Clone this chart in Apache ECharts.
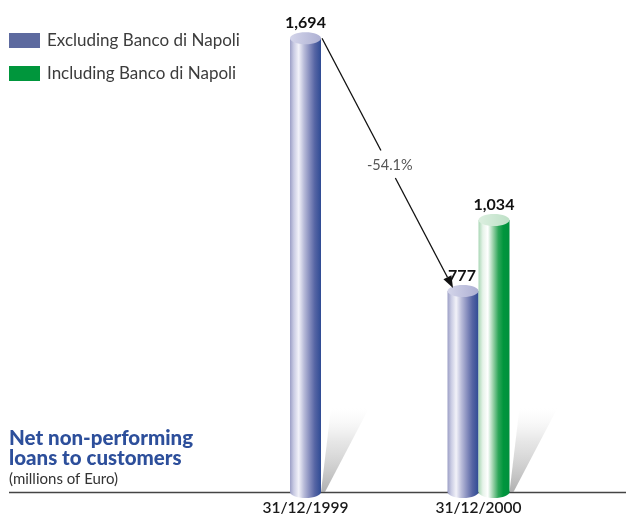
<!DOCTYPE html>
<html>
<head>
<meta charset="utf-8">
<script src="https://cdn.jsdelivr.net/npm/echarts@6/dist/echarts.min.js"></script>
<style>html,body{margin:0;padding:0;background:#fff;}#c{width:626px;height:521px;}</style>
</head>
<body>
<div id="c"></div>
<script>
const categories = ['31/12/1999', '31/12/2000'];
const excludingBN = [1694, 777];
const includingBN = [null, 1034];
const changeLabel = '-54.1%';
const seriesNames = ['Excluding Banco di Napoli', 'Including Banco di Napoli'];

const FONT = 'Lato, "Open Sans", sans-serif';
const AXIS_OFFSET = -13;
const BAR_W = 31;

const blueBody = new echarts.graphic.LinearGradient(0, 0, 1, 0, [
  {offset: 0, color: '#9c9fc6'}, {offset: 0.12, color: '#c9cbe3'},
  {offset: 0.28, color: '#f2f2f9'}, {offset: 0.45, color: '#b9bcd9'},
  {offset: 0.62, color: '#8990bf'}, {offset: 0.8, color: '#5665a4'},
  {offset: 1, color: '#2f4b94'}]);
const blueTop = new echarts.graphic.LinearGradient(0, 0, 1, 0, [
  {offset: 0, color: '#d4d5ea'}, {offset: 1, color: '#adb0d3'}]);
const greenBody = new echarts.graphic.LinearGradient(0, 0, 1, 0, [
  {offset: 0, color: '#a9d7b5'}, {offset: 0.14, color: '#e6f3e9'},
  {offset: 0.3, color: '#ffffff'}, {offset: 0.48, color: '#93cfa4'},
  {offset: 0.64, color: '#2ea65a'}, {offset: 0.8, color: '#00963d'},
  {offset: 1, color: '#00903d'}]);
const greenTop = new echarts.graphic.LinearGradient(0, 0, 1, 0, [
  {offset: 0, color: '#dcefe0'}, {offset: 1, color: '#bde0c6'}]);

function cylinder(params, api, isGreen) {
  const i = api.value(0), v = api.value(1);
  if (v == null || isNaN(v)) return;
  const top = api.coord([i, v]);
  const base = api.coord([i, 0]);
  const baseY = base[1] + AXIS_OFFSET;
  let offset = 0;
  const paired = !isGreen && includingBN[i] != null;
  if (paired) offset = -BAR_W / 2;
  if (isGreen && excludingBN[i] != null) offset = BAR_W / 2;
  const cx = top[0] + offset;
  const x = cx - BAR_W / 2;
  const ry = 6;
  const children = [];
  const rightMost = isGreen || includingBN[i] == null;
  if (rightMost) {
    const xr = x + BAR_W;
    children.push({
      type: 'polygon',
      shape: {points: [[xr, baseY], [xr + 10, baseY - 84], [xr + 48, baseY - 84], [xr + 4, baseY]]},
      style: {fill: new echarts.graphic.LinearGradient(0, 1, 0, 0, [
        {offset: 0, color: 'rgba(150,150,150,0.75)'}, {offset: 0.6, color: 'rgba(200,200,200,0.45)'},
        {offset: 1, color: 'rgba(235,235,235,0)'}])}
    });
  }
  const body = isGreen ? greenBody : blueBody;
  children.push({type: 'ellipse', shape: {cx: cx, cy: baseY, rx: BAR_W / 2, ry: ry}, style: {fill: body}});
  children.push({type: 'rect', shape: {x: x, y: top[1], width: BAR_W, height: baseY - top[1]}, style: {fill: body}});
  children.push({type: 'ellipse', shape: {cx: cx, cy: top[1], rx: BAR_W / 2, ry: ry}, style: {fill: isGreen ? greenTop : blueTop}});
  children.push({type: 'text', style: {text: v.toLocaleString('en-US'), x: cx - (paired ? 1 : 0), y: top[1] - 7,
    align: 'center', verticalAlign: 'bottom', fontSize: 16, fontWeight: 'bold', fontFamily: FONT, fill: '#111'}});
  return {type: 'group', children: children};
}

function arrow(params, api) {
  const p1 = api.coord([0, excludingBN[0]]);
  const p2 = api.coord([1, excludingBN[1]]);
  const sx = p1[0] + BAR_W / 2 + 1, sy = p1[1];
  const ex = p2[0] - BAR_W - 10 + BAR_W / 2, ey = p2[1] - 3;
  const dx = ex - sx, dy = ey - sy;
  const len = Math.sqrt(dx * dx + dy * dy);
  const ux = dx / len, uy = dy / len;
  const t1 = 0.45, t2 = 0.56, tm = 0.51;
  const headL = 12, headW = 4.5;
  const bx = ex - ux * headL, by = ey - uy * headL;
  return {type: 'group', children: [
    {type: 'line', shape: {x1: sx, y1: sy, x2: sx + dx * t1, y2: sy + dy * t1}, style: {stroke: '#111', lineWidth: 1.3}},
    {type: 'line', shape: {x1: sx + dx * t2, y1: sy + dy * t2, x2: bx, y2: by}, style: {stroke: '#111', lineWidth: 1.3}},
    {type: 'polygon', shape: {points: [[ex, ey], [bx - uy * headW, by + ux * headW], [bx + uy * headW, by - ux * headW]]}, style: {fill: '#111'}},
    {type: 'text', style: {text: changeLabel, x: sx + dx * tm + 1, y: sy + dy * tm, align: 'center', verticalAlign: 'middle',
      fontSize: 14.5, fontFamily: FONT, fill: '#555'}}
  ]};
}

const chart = echarts.init(document.getElementById('c'), null, {renderer: 'canvas'});
chart.setOption({
  backgroundColor: '#fff',
  animation: false,
  title: {
    text: 'Net non-performing\nloans to customers',
    subtext: '(millions of Euro)',
    left: 9, top: 428, itemGap: 2, padding: 0,
    textStyle: {fontSize: 20.5, fontWeight: 900, color: '#2d4f9b', fontFamily: FONT, lineHeight: 20},
    subtextStyle: {fontSize: 15, color: '#333', fontFamily: FONT, lineHeight: 17}
  },
  legend: {
    data: seriesNames,
    orient: 'vertical', left: 9, top: 32, itemWidth: 31, itemHeight: 15, itemGap: 16, padding: 0,
    icon: 'rect',
    textStyle: {fontSize: 17, color: '#3c3c3c', fontFamily: FONT, padding: [0, 0, 0, 2], lineHeight: 15}
  },
  grid: {left: 219, right: 61, top: 9, bottom: 16},
  xAxis: {
    type: 'category', data: categories, offset: AXIS_OFFSET,
    axisLine: {show: false}, axisTick: {show: false},
    axisLabel: {margin: 8, fontSize: 15.5, fontWeight: 600, color: '#1a1a1a', fontFamily: FONT}
  },
  yAxis: {type: 'value', min: 0, max: 1800, show: false, splitLine: {show: false}},
  graphic: [{type: 'line', z: 0, shape: {x1: 9, y1: 492.5, x2: 626, y2: 492.5}, style: {stroke: '#444', lineWidth: 1.5}}],
  series: [
    {name: seriesNames[0], type: 'custom', z: 3, itemStyle: {color: '#5d6a9f'},
      data: excludingBN.map((v, i) => [i, v]), encode: {x: 0, y: 1},
      renderItem: (p, a) => cylinder(p, a, false)},
    {name: seriesNames[1], type: 'custom', z: 3, itemStyle: {color: '#00963c'},
      data: includingBN.map((v, i) => [i, v]).filter(d => d[1] != null), encode: {x: 0, y: 1},
      renderItem: (p, a) => cylinder(p, a, true)},
    {name: 'arrow', type: 'custom', z: 4, silent: true, data: [[0, 0]], encode: {x: 0, y: 1},
      renderItem: arrow}
  ]
});
</script>
</body>
</html>
